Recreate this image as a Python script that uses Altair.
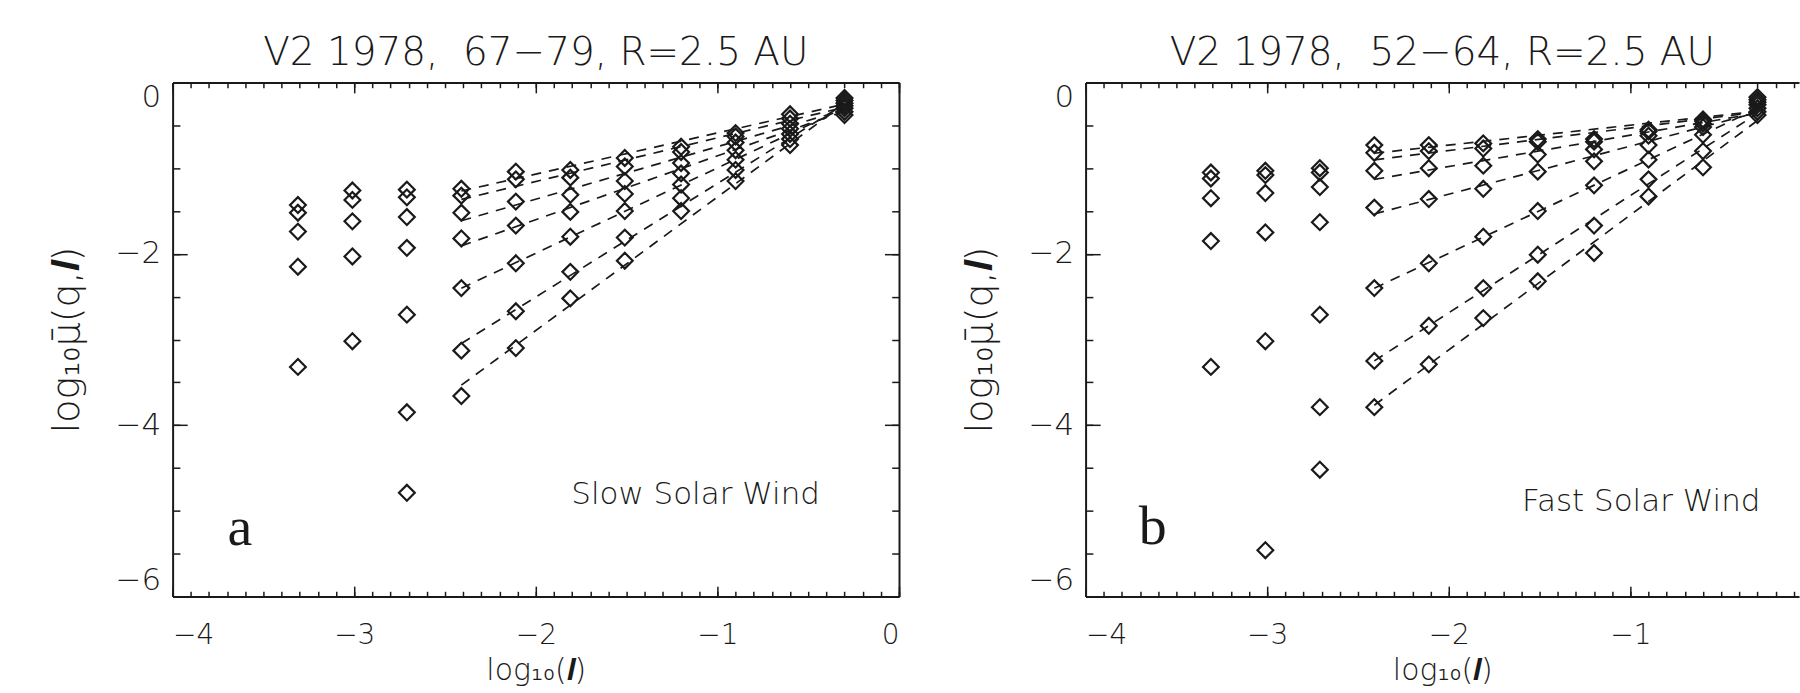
import altair as alt
import pandas as pd

# log10(l) positions of the 11 columns of points
log_l = [-3.31, -3.01, -2.71, -2.41, -2.11, -1.81, -1.51, -1.20, -0.90, -0.60, -0.30]

# Panel a: slow solar wind, seven curves (top to bottom), None = no point
slow_s1 = [-1.43, -1.26, -1.25, -1.24, -1.04, -1.02, -0.88, -0.75, -0.59, -0.37, -0.18]
slow_s2 = [-1.52, -1.37, -1.34, -1.32, -1.13, -1.11, -0.98, -0.81, -0.63, -0.42, -0.21]
slow_s3 = [-1.74, -1.62, -1.57, -1.52, -1.39, -1.31, -1.15, -0.94, -0.70, -0.48, -0.24]
slow_s4 = [-2.15, -2.03, -1.93, -1.82, -1.67, -1.51, -1.30, -1.06, -0.79, -0.54, -0.27]
slow_s5 = [-3.32, -3.02, -2.71, -2.40, -2.11, -1.80, -1.50, -1.19, -0.90, -0.60, -0.30]
slow_s6 = [None, None, -3.85, -3.13, -2.67, -2.21, -1.81, -1.35, -1.02, -0.66, -0.34]
slow_s7 = [None, None, -4.79, -3.66, -3.10, -2.52, -2.08, -1.50, -1.15, -0.73, -0.38]

# Panel b: fast solar wind
fast_s1 = [-1.05, -1.03, -1.00, -0.73, -0.73, -0.71, -0.66, -0.66, -0.55, -0.43, -0.17]
fast_s2 = [-1.12, -1.08, -1.05, -0.82, -0.80, -0.77, -0.69, -0.69, -0.57, -0.45, -0.20]
fast_s3 = [-1.35, -1.29, -1.22, -1.03, -1.00, -0.97, -0.84, -0.78, -0.62, -0.48, -0.23]
fast_s4 = [-1.85, -1.75, -1.63, -1.46, -1.36, -1.24, -1.04, -0.92, -0.73, -0.52, -0.26]
fast_s5 = [-3.32, -3.02, -2.71, -2.40, -2.11, -1.80, -1.50, -1.20, -0.90, -0.61, -0.30]
fast_s6 = [None, -5.46, -3.79, -3.25, -2.84, -2.40, -2.01, -1.67, -1.13, -0.80, -0.34]
fast_s7 = [None, None, -4.52, -3.79, -3.29, -2.75, -2.32, -1.99, -1.33, -0.99, -0.38]

# fits are drawn over this range of log10(l)
fit_range = [-2.41, -0.30]

titles = ["V2 1978, \u00a067\u221279, R=2.5 AU", "V2 1978, \u00a052\u221264, R=2.5 AU"]
letters = ["a", "b"]
letter_x = [-3.63, -3.63]
letter_y = [-5.40, -5.39]
wind_text = ["Slow Solar Wind", "Fast Solar Wind"]
wind_x = [-1.12, -0.94]
wind_y = [-4.92, -5.00]

x_major = [-4, -3, -2, -1, 0]
y_major = [-6, -4, -2, 0]
x_minor = [round(-4 + 0.1 * i, 1) for i in range(41)]
y_minor = [round(-6 + 0.5 * i, 1) for i in range(13)]

INK = "#1a1a1a"
FONT = "DejaVu Sans"
WEIGHT = 300
PX_PER_UNIT_X = 182.0
H = 515
XTICK = 10.3   # inward tick length on the x axes (major)
YTICK = 14.6   # inward tick length on the y axes (major)
ELL = "\U0001D48D"   # bold italic small l


def long_df(series):
    rows = []
    for k, vals in enumerate(series):
        for x, y in zip(log_l, vals):
            if y is not None:
                rows.append({"x": x, "y": y, "s": f"s{k + 1}"})
    return pd.DataFrame(rows)


def ax(orient, values, tick, **kw):
    base = dict(orient=orient, values=values, tickSize={"expr": str(-tick)},
                tickColor=INK, tickWidth=1.5, grid=False, labels=False,
                domainColor=INK, domainWidth=2, minExtent=0)
    base.update(kw)
    return alt.Axis(**base)


def panel(i, series, xmax, width, right_axis):
    df = long_df(series)
    xs = alt.Scale(domain=[-4, xmax], nice=False, zero=False)
    ys = alt.Scale(domain=[-6, 0], nice=False, zero=False)
    xv = [v for v in x_major if v <= xmax]
    xm = [v for v in x_minor if v <= xmax]

    bottom_major = ax("bottom", xv, XTICK, labels=True, domain=True,
                      labelFont=FONT, labelFontSize=28, labelFontWeight=WEIGHT, labelColor=INK,
                      labelPadding=XTICK + 25, title="log\u2081\u2080(" + ELL + ")",
                      titleFont=FONT, titleFontSize=30, titleFontWeight=WEIGHT,
                      titleColor=INK, titlePadding=6)
    left_major = ax("left", y_major, YTICK, labels=True, domain=True,
                    labelFont=FONT, labelFontSize=31, labelFontWeight=WEIGHT, labelColor=INK,
                    labelPadding=YTICK + 12, labelFlush=True,
                    title="log\u2081\u2080\u03bc\u0304(q," + ELL + ")",
                    titleFont=FONT, titleFontSize=38, titleFontWeight=WEIGHT,
                    titleColor=INK, titlePadding=29)

    points = alt.Chart(df).mark_point(
        shape="diamond", filled=False, size=250, strokeWidth=2.2, color=INK, opacity=1
    ).encode(
        x=alt.X("x:Q", scale=xs, axis=bottom_major),
        y=alt.Y("y:Q", scale=ys, axis=left_major),
    )

    ylines = alt.Y("y:Q", scale=ys, axis=ax("right", y_major, YTICK, domain=True), title=None) \
        if right_axis else alt.Y("y:Q", scale=ys, axis=None)
    lines = alt.Chart(df).transform_filter(
        f"datum.x >= {fit_range[0] - 0.05}"
    ).transform_regression(
        "x", "y", groupby=["s"], extent=fit_range
    ).mark_line(strokeDash=[10, 8], strokeWidth=1.7, color=INK).encode(
        x=alt.X("x:Q", scale=xs, axis=ax("top", xv, XTICK, domain=True), title=None),
        y=ylines,
        detail="s:N",
    )

    letter_df = pd.DataFrame({"x": [letter_x[i]], "y": [letter_y[i]], "t": [letters[i]]})
    letter = alt.Chart(letter_df).mark_text(
        font="Liberation Serif", fontSize=56, color=INK, align="center", baseline="alphabetic"
    ).encode(
        x=alt.X("x:Q", scale=xs, axis=ax("bottom", xm, XTICK / 2, domain=False), title=None),
        y=alt.Y("y:Q", scale=ys, axis=ax("left", y_minor, YTICK / 2, domain=False), title=None),
        text="t:N",
    )

    wind_df = pd.DataFrame({"x": [wind_x[i]], "y": [wind_y[i]], "t": [wind_text[i]]})
    ywind = alt.Y("y:Q", scale=ys, axis=ax("right", y_minor, YTICK / 2, domain=False), title=None) \
        if right_axis else alt.Y("y:Q", scale=ys, axis=None)
    wind = alt.Chart(wind_df).mark_text(
        font=FONT, fontSize=31, fontWeight=WEIGHT, color=INK, align="center", baseline="alphabetic"
    ).encode(
        x=alt.X("x:Q", scale=xs, axis=ax("top", xm, XTICK / 2, domain=False), title=None),
        y=ywind,
        text="t:N",
    )

    return alt.layer(points, lines, letter, wind).resolve_axis(
        x="independent", y="independent"
    ).properties(
        width=width, height=H,
        title=alt.TitleParams(text=titles[i], font=FONT, fontSize=39, fontWeight=WEIGHT,
                              color=INK, anchor="middle", baseline="alphabetic", offset=-22),
    )


left = panel(0, [slow_s1, slow_s2, slow_s3, slow_s4, slow_s5, slow_s6, slow_s7],
             0, 728, True)
right_w = 715
right = panel(1, [fast_s1, fast_s2, fast_s3, fast_s4, fast_s5, fast_s6, fast_s7],
              round(-4 + right_w / PX_PER_UNIT_X, 4), right_w, False)

chart = alt.hconcat(left, right, spacing=187, bounds="flush").properties(
    padding={"left": 47, "top": 32, "right": 0, "bottom": 0},
    background="white",
).configure_view(stroke="transparent")

chart.save("out.html", embed_options={"renderer": "svg", "actions": False})
